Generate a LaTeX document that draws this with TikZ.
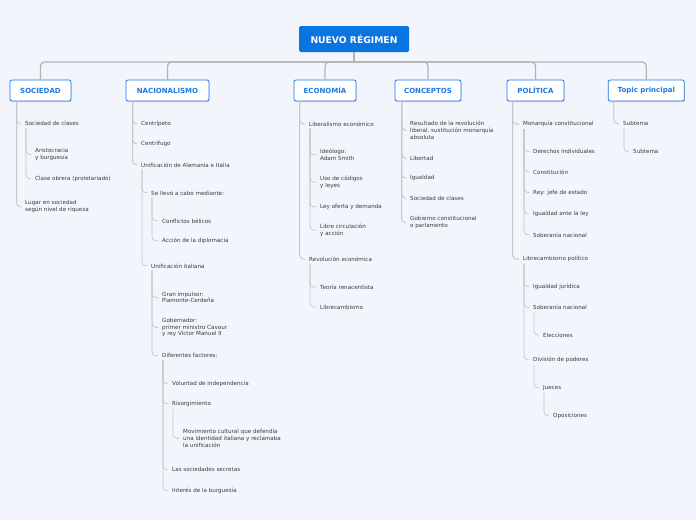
\documentclass[tikz,border=0pt]{standalone}
\usepackage{fontspec}
\setmainfont{DejaVu Sans}
\usetikzlibrary{shadows}
\definecolor{bg}{HTML}{F3F5FD}
\definecolor{mainblue}{HTML}{0A74E0}
\definecolor{topicblue}{HTML}{1F78E0}
\definecolor{txt}{HTML}{3A3A3A}
\definecolor{ln}{HTML}{C6C6C6}
\definecolor{busln}{HTML}{B4B4B4}
\tikzset{
  rootbox/.style={fill=mainblue, rounded corners=1.5pt, minimum width=110pt, minimum height=26pt, inner sep=0pt,
    text=white, font=\fontsize{9.2}{11}\selectfont\bfseries},
  topicbox/.style={draw=topicblue, line width=0.8pt, fill=white, rounded corners=2pt, minimum height=21pt, inner sep=0pt,
    text=topicblue, font=\fontsize{7}{8}\selectfont\bfseries,
    drop shadow={shadow xshift=0.6pt, shadow yshift=-1.2pt, fill=black!25, opacity=0.6}},
  sub/.style={anchor=west, inner sep=0pt, yshift=-0.8pt, text=txt, align=left, font=\fontsize{5.6}{6.8}\selectfont},
  bus/.style={draw=busln, line width=1.3pt, rounded corners=4pt},
  conn/.style={draw=ln, line width=0.9pt, rounded corners=4pt},
}
\begin{document}
\begin{tikzpicture}[x=1pt,y=-1pt]
\fill[bg] (0,0) rectangle (696,520);
\useasboundingbox (0,0) rectangle (696,520);

% root and topics
\node[rootbox] (root) at (354,39) {NUEVO RÉGIMEN};
\node[topicbox, minimum width=61pt] (soc) at (40.5,90.5) {SOCIEDAD};
\node[topicbox, minimum width=83pt] (nac) at (167.5,90.5) {NACIONALISMO};
\node[topicbox, minimum width=62pt] (eco) at (325,90.5) {ECONOMÍA};
\node[topicbox, minimum width=66pt] (con) at (428,90.5) {CONCEPTOS};
\node[topicbox, minimum width=57pt] (pol) at (535.5,90.5) {POLÍTICA};
\node[topicbox, minimum width=76pt] (top) at (646.3,90.5) {Topic principal};

\coordinate (hub) at (354,62);
\draw[bus] (root.south) -- (hub);
\foreach \t in {soc,nac,eco,con,pol,top}{
  \draw[bus] (hub) -| (\t.north);
}

% SOCIEDAD
\node[sub] (s1) at (25,123) {Sociedad de clases};
\node[sub] (s11) at (35,153.7) {Aristocracia\\y burguesía};
\node[sub] (s12) at (35,178) {Clase obrera (proletariado)};
\node[sub] (s2) at (25,206) {Lugar en sociedad\\según nivel de riqueza};

% NACIONALISMO
\node[sub] (n1) at (141,123) {Centrípeto};
\node[sub] (n2) at (141,143) {Centrífugo};
\node[sub] (n3) at (141,164) {Unificación de Alemania e Italia};
\node[sub] (n31) at (151,192) {Se llevó a cabo mediante:};
\node[sub] (n311) at (162,220) {Conflictos bélicos};
\node[sub] (n312) at (162,240) {Acción de la diplomacia};
\node[sub] (n32) at (151,265) {Unificación italiana};
\node[sub] (n321) at (162,296.7) {Gran impulsor:\\Piamonte-Cerdeña};
\node[sub] (n322) at (162,326.7) {Gobernador:\\primer ministro Cavour\\y rey Víctor Manuel II};
\node[sub] (n323) at (162,355) {Diferentes factores:};
\node[sub] (f1) at (172,383) {Voluntad de independencia};
\node[sub] (f2) at (172,403) {Risorgimiento};
\node[sub] (f21) at (183,437.7) {Movimiento cultural que defendía\\una identidad italiana y reclamaba\\la unificación};
\node[sub] (f3) at (172,469) {Las sociedades secretas};
\node[sub] (f4) at (172,490) {Interés de la burguesía};

% ECONOMIA
\node[sub] (e1) at (309,123.3) {Liberalismo económico};
\node[sub] (e11) at (320,154) {Ideólogo:\\Adam Smith};
\node[sub] (e12) at (320,181.5) {Uso de códigos\\y leyes};
\node[sub] (e13) at (320,206) {Ley oferta y demanda};
\node[sub] (e14) at (320,229.5) {Libre circulación\\y acción};
\node[sub] (e2) at (309,258.3) {Revolución económica};
\node[sub] (e21) at (320,286.3) {Teoría renacentista};
\node[sub] (e22) at (320,306.3) {Librecambismo};

% CONCEPTOS
\node[sub] (c1) at (410,129.5) {Resultado de la revolución\\liberal, sustitución monarquía\\absoluta};
\node[sub] (c2) at (410,157.3) {Libertad};
\node[sub] (c3) at (410,177.3) {Igualdad};
\node[sub] (c4) at (410,197.3) {Sociedad de clases};
\node[sub] (c5) at (410,222) {Gobierno constitucional\\o parlamento};

% POLITICA
\node[sub] (p1) at (523,123.3) {Monarquía constitucional};
\node[sub] (p11) at (533,150.7) {Derechos individuales};
\node[sub] (p12) at (533,171) {Constitución};
\node[sub] (p13) at (533,191.7) {Rey: jefe de estado};
\node[sub] (p14) at (533,213.3) {Igualdad ante la ley};
\node[sub] (p15) at (533,234) {Soberanía nacional};
\node[sub] (p2) at (523,258.3) {Librecambismo político};
\node[sub] (p21) at (533,286) {Igualdad jurídica};
\node[sub] (p22) at (533,306.7) {Soberanía nacional};
\node[sub] (p221) at (543,334.3) {Elecciones};
\node[sub] (p23) at (533,359) {División de poderes};
\node[sub] (p231) at (543,387) {Jueces};
\node[sub] (p2311) at (553,415) {Oposiciones};

% TOPIC PRINCIPAL
\node[sub] (t1) at (623,123) {Subtema};
\node[sub] (t11) at (633,151) {Subtema};

% connectors from topics
\foreach \p/\dx/\kids in {soc/7/{s1,s2}, nac/7/{n1,n2,n3}, eco/6/{e1,e2}, con/7/{c1,c2,c3,c4,c5}, pol/6/{p1,p2}, top/6/{t1}}{
  \foreach \k in \kids {
    \draw[conn] ([xshift=\dx pt]\p.south west) |- ([xshift=-4pt]\k.west);
  }
}
% connectors from sub nodes
\foreach \p/\kids in {s1/{s11,s12}, n3/{n31,n32}, n31/{n311,n312}, n32/{n321,n322,n323}, n323/{f1,f2,f3,f4}, f2/{f21},
  e1/{e11,e12,e13,e14}, e2/{e21,e22}, p1/{p11,p12,p13,p14,p15}, p2/{p21,p22,p23}, p22/{p221}, p23/{p231}, p231/{p2311}, t1/{t11}}{
  \foreach \k in \kids {
    \draw[conn, line width=0.7pt] ([xshift=1pt,yshift=-2pt]\p.south west) |- ([xshift=-4pt]\k.west);
  }
}
\end{tikzpicture}
\end{document}
